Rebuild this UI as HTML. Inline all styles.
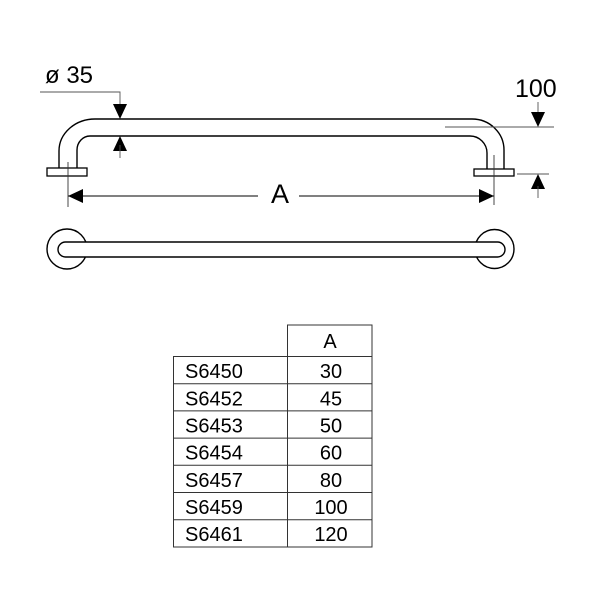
<!DOCTYPE html>
<html>
<head>
<meta charset="utf-8">
<style>
  html,body{margin:0;padding:0;background:#fff;}
  svg{display:block;}
  text{font-family:"Liberation Sans", Arial, sans-serif;fill:#000;}
</style>
</head>
<body>
<svg width="600" height="600" viewBox="0 0 600 600" xmlns="http://www.w3.org/2000/svg">
  <rect x="0" y="0" width="600" height="600" fill="#fff"/>

  <!-- ===== Side view ===== -->
  <path d="M59,168 L59,151 A36,32 0 0 1 95,119 L472,119 A32,31 0 0 1 504,150 L504,169" fill="none" stroke="#000" stroke-width="1.4"/>
  <path d="M77,168 L77,150 A13,14 0 0 1 90,136 L470,136 A17,17 0 0 1 487,153 L487,169" fill="none" stroke="#000" stroke-width="1.4"/>
  <rect x="47" y="168" width="40" height="8" fill="#fff" stroke="#000" stroke-width="1.3"/>
  <rect x="474" y="169" width="40" height="7" fill="#fff" stroke="#000" stroke-width="1.3"/>

  <line x1="68" y1="162" x2="68" y2="207" stroke="#333" stroke-width="0.9"/>
  <line x1="494" y1="155" x2="494" y2="205" stroke="#333" stroke-width="0.9"/>

  <line x1="68" y1="196" x2="258" y2="196" stroke="#000" stroke-width="1"/>
  <line x1="299" y1="196" x2="494" y2="196" stroke="#000" stroke-width="1"/>
  <polygon points="68,196 83,189 83,203" fill="#000"/>
  <polygon points="494,196 479,189 479,203" fill="#000"/>
  <text x="271" y="203" font-size="27">A</text>

  <text x="45" y="83" font-size="24">ø 35</text>
  <polyline points="40,92 120,92 120,110" fill="none" stroke="#555" stroke-width="0.9"/>
  <polygon points="120,119 113,104 127,104" fill="#000"/>
  <polygon points="120,136 113,151 127,151" fill="#000"/>
  <line x1="120" y1="145" x2="120" y2="158" stroke="#555" stroke-width="0.9"/>

  <text x="515" y="97" font-size="25">100</text>
  <line x1="445" y1="127" x2="554" y2="127" stroke="#555" stroke-width="0.9"/>
  <line x1="538" y1="102" x2="538" y2="114" stroke="#555" stroke-width="0.9"/>
  <polygon points="538,127 531,112 545,112" fill="#000"/>
  <line x1="517" y1="174" x2="549" y2="174" stroke="#555" stroke-width="0.9"/>
  <polygon points="538,174 531,189 545,189" fill="#000"/>
  <line x1="538" y1="186" x2="538" y2="198" stroke="#555" stroke-width="0.9"/>

  <!-- ===== Top view ===== -->
  <circle cx="67" cy="249" r="20" fill="#fff" stroke="#000" stroke-width="1.4"/>
  <circle cx="494.5" cy="249" r="19.5" fill="#fff" stroke="#000" stroke-width="1.4"/>
  <rect x="58" y="242" width="447" height="15" rx="7.5" ry="7.5" fill="#fff" stroke="#000" stroke-width="1.4"/>

  <!-- ===== Table ===== -->
  <g stroke="#333" stroke-width="1" fill="none">
    <rect x="287.5" y="325" width="84.5" height="31.5"/>
    <rect x="173.5" y="356.5" width="198.5" height="190.5"/>
    <line x1="287.5" y1="356.5" x2="287.5" y2="547"/>
    <line x1="173.5" y1="383.7" x2="372" y2="383.7"/>
    <line x1="173.5" y1="410.9" x2="372" y2="410.9"/>
    <line x1="173.5" y1="438.1" x2="372" y2="438.1"/>
    <line x1="173.5" y1="465.3" x2="372" y2="465.3"/>
    <line x1="173.5" y1="492.5" x2="372" y2="492.5"/>
    <line x1="173.5" y1="519.7" x2="372" y2="519.7"/>
  </g>
  <g font-size="20">
    <text x="330" y="348" text-anchor="middle">A</text>

    <text x="185" y="378">S6450</text>
    <text x="185" y="405.5">S6452</text>
    <text x="185" y="432.5">S6453</text>
    <text x="185" y="459.5">S6454</text>
    <text x="185" y="487">S6457</text>
    <text x="185" y="514">S6459</text>
    <text x="185" y="541">S6461</text>

    <text x="331" y="378" text-anchor="middle">30</text>
    <text x="331" y="405.5" text-anchor="middle">45</text>
    <text x="331" y="432.5" text-anchor="middle">50</text>
    <text x="331" y="459.5" text-anchor="middle">60</text>
    <text x="331" y="487" text-anchor="middle">80</text>
    <text x="331" y="514" text-anchor="middle">100</text>
    <text x="331" y="541" text-anchor="middle">120</text>
  </g>
</svg>
</body>
</html>
